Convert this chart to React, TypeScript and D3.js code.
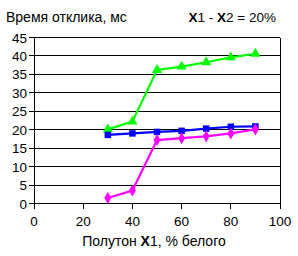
import React from "react";
import * as d3 from "d3";

const xValues = [30, 40, 50, 60, 70, 80, 90];
const greenValues = [20.1, 22.2, 36.2, 37.1, 38.3, 39.6, 40.6];
const blueValues = [18.6, 19.0, 19.4, 19.7, 20.3, 20.8, 20.9];
const magentaValues = [1.5, 3.5, 17.2, 17.7, 18.2, 19.0, 20.1];
const xTicks = [0, 20, 40, 60, 80, 100];
const yTicks = [0, 5, 10, 15, 20, 25, 30, 35, 40, 45];

const W = 298, H = 256;
const font = "Arial, 'Liberation Sans', sans-serif";

export default function App() {
  const x = d3.scaleLinear().domain([0, 100]).range([34, 280]);
  const y = d3.scaleLinear().domain([0, 45]).range([203.5, 37.5]);
  const line = d3.line<number>().x((_, i) => x(xValues[i])).y((d) => y(d));
  const tri = d3.symbol().type(d3.symbolTriangle).size(45)();
  const sq = d3.symbol().type(d3.symbolSquare).size(42)();
  const dia = d3.symbol().type(d3.symbolDiamond).size(42)();
  const series = [
    { vals: greenValues, color: "#00ff00", sym: tri },
    { vals: blueValues, color: "#0000ff", sym: sq },
    { vals: magentaValues, color: "#ff00ff", sym: dia },
  ];
  return (
    <svg width={W} height={H} style={{ position: "absolute", left: 0, top: 0, background: "#fff" }} fontFamily={font}>
      <rect x={0} y={0} width={W} height={H} fill="#fff" />
      {yTicks.map((t) => (
        <g key={t}>
          <line x1={29} x2={280} y1={y(t)} y2={y(t)} stroke="#000" strokeWidth={1} shapeRendering="crispEdges" />
          <text x={27} y={y(t) + 5} fontSize={13.5} textAnchor="end">{t}</text>
        </g>
      ))}
      <line x1={x(0)} x2={x(0)} y1={y(45)} y2={y(0)} stroke="#000" shapeRendering="crispEdges" />
      <line x1={x(100)} x2={x(100)} y1={y(45)} y2={y(0)} stroke="#000" shapeRendering="crispEdges" />
      {xTicks.map((t) => (
        <g key={t}>
          <line x1={x(t)} x2={x(t)} y1={y(0)} y2={y(0) + 5} stroke="#000" shapeRendering="crispEdges" />
          <text x={x(t)} y={226} fontSize={13.5} textAnchor="middle">{t}</text>
        </g>
      ))}
      {series.map((s, k) => (
        <g key={k}>
          <path d={line(s.vals) || ""} fill="none" stroke={s.color} strokeWidth={2.2} />
          {s.vals.map((v, i) => (
            <path key={i} d={s.sym || ""} transform={`translate(${x(xValues[i])},${y(v)})`} fill={s.color} />
          ))}
        </g>
      ))}
      <text x={6} y={22} fontSize={14}>Время отклика, мс</text>
      <text x={276} y={22} fontSize={13.5} textAnchor="end">
        <tspan fontWeight="bold">X</tspan>1 - <tspan fontWeight="bold">X</tspan>2 = 20%
      </text>
      <text x={154} y={246} fontSize={14} textAnchor="middle">
        Полутон <tspan fontWeight="bold">X</tspan>1, % белого
      </text>
    </svg>
  );
}
